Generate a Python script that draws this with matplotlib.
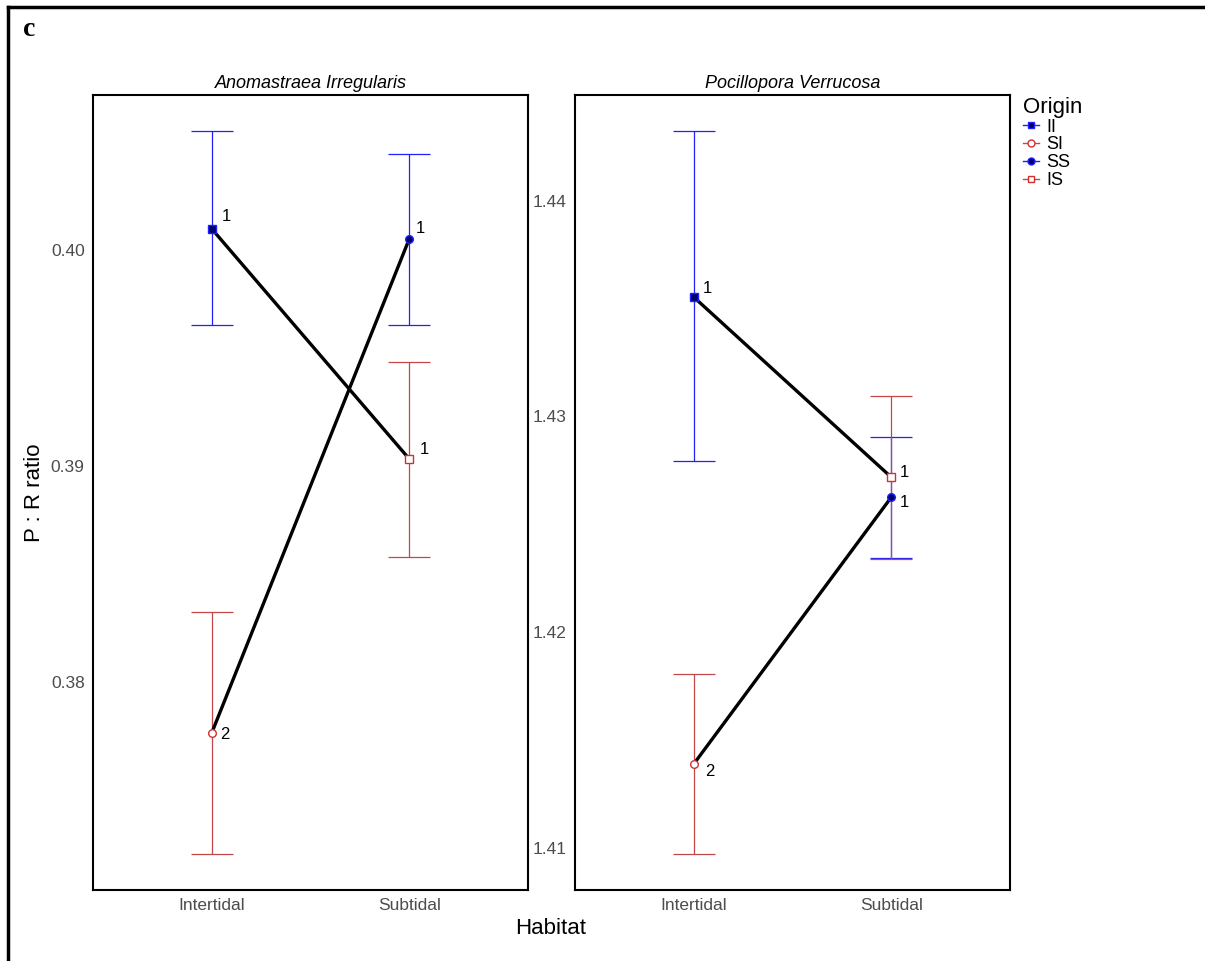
import matplotlib.pyplot as plt
from matplotlib.lines import Line2D

plt.rcParams['font.family'] = ['Liberation Sans', 'DejaVu Sans']

habitats = ['Intertidal', 'Subtidal']
origins = ['II', 'SI', 'SS', 'IS']
origin_habitat = [0, 0, 1, 1]   # index into habitats
connect = [('II', 'IS'), ('SI', 'SS')]

species = ['Anomastraea Irregularis', 'Pocillopora Verrucosa']
means = [
    [0.40097, 0.37765, 0.40051, 0.39032],
    [1.43554, 1.41388, 1.42626, 1.42718],
]
upper = [
    [0.40548, 0.38323, 0.40442, 0.39479],
    [1.44323, 1.41804, 1.42903, 1.43097],
]
lower = [
    [0.39654, 0.37207, 0.39654, 0.38581],
    [1.42792, 1.40972, 1.42344, 1.42340],
]
groups = [
    ['1', '2', '1', '1'],
    ['1', '2', '1', '1'],
]
yticks = [[0.38, 0.39, 0.40], [1.41, 1.42, 1.43, 1.44]]

# styles
blue = '#2020FF'
red = '#C04848'
style = {
    'II': dict(marker='s', mfc='#00006A', mec=blue, bar=blue),
    'SI': dict(marker='o', mfc='white', mec='#D03030', bar=red),
    'SS': dict(marker='o', mfc='#00006A', mec=blue, bar=blue),
    'IS': dict(marker='s', mfc='white', mec='#D03030', bar=red),
}
label_offsets = [
    [(15, 12), (13, -1), (11, 10), (15, 10)],
    [(14, 8), (16, -7), (13, -5), (13, 5)],
]

fig = plt.figure(figsize=(12.05, 9.61), dpi=100)
W, H = 1205, 961
lefts = [93, 575]
axes = []
for p in range(2):
    ax = fig.add_axes([lefts[p] / W, 1 - 890 / H, 435 / W, 795 / H])
    axes.append(ax)
    m = means[p]
    for a, b in connect:
        i, j = origins.index(a), origins.index(b)
        ax.plot([origin_habitat[i], origin_habitat[j]], [m[i], m[j]],
                color='black', lw=2.4, zorder=2)
    for k, o in enumerate(origins):
        s = style[o]
        x = origin_habitat[k]
        ax.errorbar(x, m[k], yerr=[[m[k] - lower[p][k]], [upper[p][k] - m[k]]],
                    fmt='none', ecolor=s['bar'], elinewidth=0.9, capsize=15,
                    capthick=0.9, zorder=1)
        ax.plot(x, m[k], marker=s['marker'], mfc=s['mfc'], mec=s['mec'],
                ms=5.5, mew=1.0, ls='none', zorder=3)
        ax.annotate(groups[p][k], (x, m[k]), xytext=label_offsets[p][k],
                    textcoords='offset pixels', ha='center', va='center',
                    fontsize=12, color='black', zorder=4)
    ax.set_xlim(-0.6, 1.6)
    ax.margins(y=0.05)
    ax.set_xticks([0, 1])
    ax.set_xticklabels(habitats)
    ax.set_yticks(yticks[p])
    ax.set_yticklabels(['%.2f' % v for v in yticks[p]])
    ax.tick_params(length=0, labelsize=12.5, labelcolor='#4D4D4D', pad=6)
    for sp in ax.spines.values():
        sp.set_linewidth(1.5)
    ax.set_title(species[p], fontsize=13, style='italic', pad=5)

axes[0].set_ylabel('P : R ratio', fontsize=16, labelpad=4)
fig.text(551 / W, 1 - 928 / H, 'Habitat', fontsize=16, ha='center', va='center')

handles = [Line2D([0], [0], color=style[o]['bar'], lw=1, marker=style[o]['marker'],
                  mfc=style[o]['mfc'], mec=style[o]['mec'], ms=5) for o in origins]
leg = fig.legend(handles, origins, loc='upper left',
                 bbox_to_anchor=(1010 / W, 1 - 84 / H), frameon=False,
                 title='Origin', title_fontsize=16, fontsize=13,
                 handlelength=0.9, handletextpad=0.4, labelspacing=0.05,
                 borderpad=0.2, alignment='left')

fig.text(23 / W, 1 - 30 / H, 'c', fontsize=20, fontweight='bold',
         family='Liberation Serif', ha='left', va='center')
fig.add_artist(Line2D([8 / W, 8 / W], [0, 1 - 7 / H], color='black', lw=2.5,
                      transform=fig.transFigure))
fig.add_artist(Line2D([8 / W, 1], [1 - 7 / H, 1 - 7 / H], color='black', lw=2.5,
                      transform=fig.transFigure))

fig.savefig('out.png', dpi=100)
